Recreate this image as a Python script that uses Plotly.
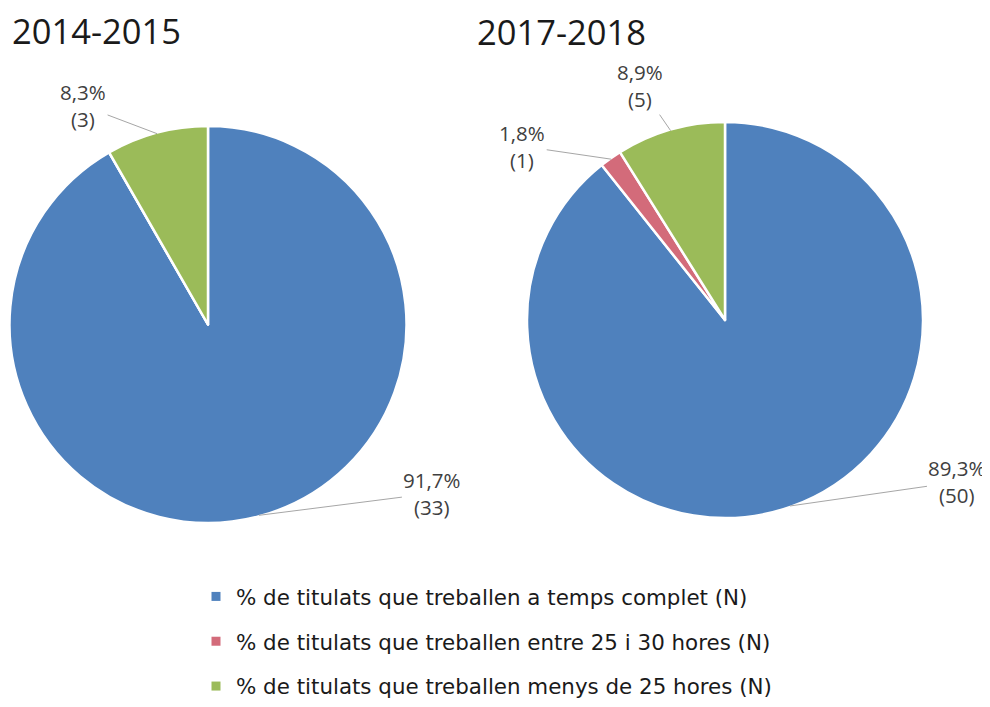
import math
import plotly.graph_objects as go

# ---- data ----
categories = [
    "% de titulats que treballen a temps complet (N)",
    "% de titulats que treballen entre 25 i 30 hores (N)",
    "% de titulats que treballen menys de 25 hores (N)",
]
years = ["2014-2015", "2017-2018"]
pct_2014 = [91.7, 0.0, 8.3]
n_2014 = [33, 0, 3]
pct_2017 = [89.3, 1.8, 8.9]
n_2017 = [50, 1, 5]
colors = ["#4F81BD", "#D36B7A", "#9BBB59"]

W, H = 990, 707
OFF = 8  # page body margin of the browser
# pie boxes in pixels (x0, x1, y0, y1), page coordinates
boxes = [(9, 407, 126, 523), (526, 924, 122, 518)]
# label offsets (pixels) from slice edge to text for each slice
offsets = [
    [(173, -22), None, (-74, -28)],
    [(167, -24), (-89, -13), (-31, -45)],
]


def px2x(p):
    return (p - OFF) / W


def px2y(p):
    return 1 - (p - OFF) / H


fig = go.Figure()
annotations = []
for k, (pcts, ns) in enumerate([(pct_2014, n_2014), (pct_2017, n_2017)]):
    x0, x1, y0, y1 = boxes[k]
    fig.add_trace(go.Pie(
        labels=categories, values=pcts, sort=False, direction="clockwise",
        rotation=0, textinfo="none", hoverinfo="label+value",
        marker=dict(colors=colors, line=dict(color="white", width=2.5)),
        domain=dict(x=[px2x(x0), px2x(x1)], y=[px2y(y1), px2y(y0)]),
        showlegend=False,
    ))
    cx, cy = (x0 + x1) / 2, (y0 + y1) / 2
    r = min(x1 - x0, y1 - y0) / 2 - 1
    total = sum(pcts)
    cum = 0.0
    for i, (p, n) in enumerate(zip(pcts, ns)):
        if p > 0 and offsets[k][i] is not None:
            mid = (cum + p / 2) / total * 2 * math.pi
            px = cx + r * math.sin(mid)
            py = cy - r * math.cos(mid)
            ax, ay = offsets[k][i]
            annotations.append(dict(
                x=px2x(px), y=px2y(py), xref="paper", yref="paper",
                text=f"{p:.1f}%".replace(".", ",") + f"<br>({n})",
                showarrow=True, arrowhead=0, arrowwidth=1, arrowcolor="#A6A6A6",
                ax=ax, ay=ay, standoff=0,
                font=dict(family="Open Sans", size=20.5, color="#404040"),
            ))
        cum += p

# titles
annotations.append(dict(x=px2x(10), y=px2y(30.5), xref="paper", yref="paper",
                        xanchor="left", yanchor="middle", text=years[0], showarrow=False,
                        font=dict(family="Open Sans", size=34.5, color="#1a1a1a")))
annotations.append(dict(x=px2x(475), y=px2y(32), xref="paper", yref="paper",
                        xanchor="left", yanchor="middle", text=years[1], showarrow=False,
                        font=dict(family="Open Sans", size=34.5, color="#1a1a1a")))

# legend entries
for i, c in enumerate(categories):
    fig.add_trace(go.Scatter(
        x=[None], y=[None], mode="markers", name=c, legendgroup=f"g{i}",
        marker=dict(symbol="square", size=9, color=colors[i]),
    ))

fig.update_layout(
    width=W, height=H, margin=dict(l=0, r=0, t=0, b=0),
    paper_bgcolor="white", plot_bgcolor="white",
    xaxis=dict(visible=False), yaxis=dict(visible=False),
    annotations=annotations,
    legend=dict(x=px2x(196), y=px2y(576), xanchor="left", yanchor="top",
                orientation="v", tracegroupgap=14,
                font=dict(family="DejaVu Sans", size=21.4, color="#1a1a1a")),
)
fig.write_html("out.html")
